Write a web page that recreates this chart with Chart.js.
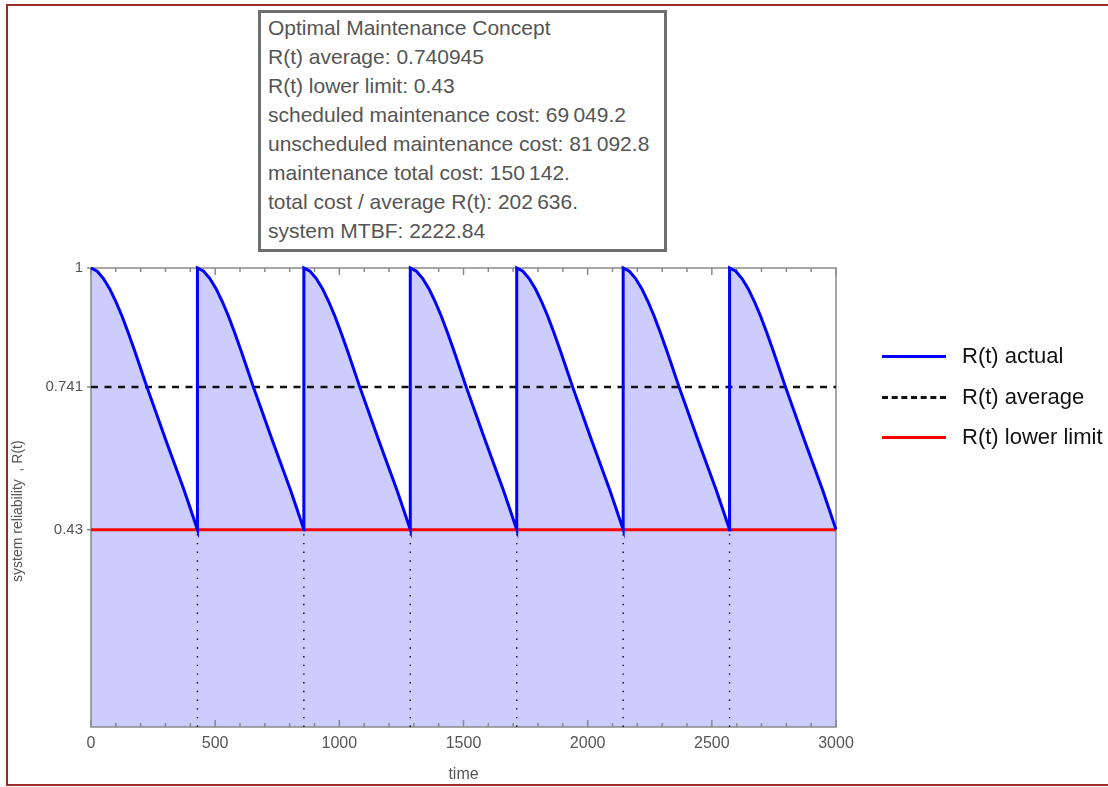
<!DOCTYPE html>
<html>
<head>
<meta charset="utf-8">
<script src="https://cdn.jsdelivr.net/npm/chart.js@4.4.1/dist/chart.umd.min.js"></script>
<style>
  body { margin: 0; background: #fff; font-family: "Liberation Sans", Arial, sans-serif; }
  #wrap { position: relative; width: 1108px; height: 787px; overflow: hidden; }
  #outer { position: absolute; left: 6px; top: 4px; width: 1110px; height: 782px; border: 2px solid #9c2a2a; box-sizing: border-box; }
  canvas { position: absolute; left: 0; top: 0; }
  #info { position: absolute; left: 258px; top: 10px; width: 409px; height: 242px; box-sizing: border-box;
          border: 3px solid #6e6e6e; background: #fff; padding: 0 0 0 7px; color: #555; font-size: 21px; line-height: 29px; }
  #legend { position: absolute; left: 882px; top: 342px; font-size: 22px; color: #111; }
  .item { position: relative; height: 40.5px; }
  .swatch { position: absolute; left: 0; top: 13px; width: 64px; height: 0; }
  .item span { position: absolute; left: 80px; top: 1px; white-space: nowrap; }
</style>
</head>
<body>
<div id="wrap">
  <div id="outer"></div>
  <canvas id="chart" width="1108" height="787"></canvas>
  <div id="info">
    <div>Optimal Maintenance Concept</div>
    <div>R(t) average: 0.740945</div>
    <div>R(t) lower limit: 0.43</div>
    <div>scheduled maintenance cost: 69&#8201;049.2</div>
    <div>unscheduled maintenance cost: 81&#8201;092.8</div>
    <div>maintenance total cost: 150&#8201;142.</div>
    <div>total cost / average R(t): 202&#8201;636.</div>
    <div>system MTBF: 2222.84</div>
  </div>
  <div id="legend">
    <div class="item"><div class="swatch" style="border-top: 3px solid #0000ff"></div><span>R(t) actual</span></div>
    <div class="item"><div class="swatch" style="border-top: 3px dashed #111"></div><span>R(t) average</span></div>
    <div class="item"><div class="swatch" style="border-top: 3px solid #ff0000"></div><span>R(t) lower limit</span></div>
  </div>
</div>
<script>
// one maintenance cycle (time since last maintenance, R(t))
const cycleT = [0, 25, 50, 75, 100, 125, 150, 175, 200, 225, 250, 275, 300, 325, 350, 375, 400, 428.6];
const cycleR = [1.0, 0.993, 0.977, 0.955, 0.927, 0.895, 0.859, 0.821, 0.781, 0.741, 0.703, 0.665,
                0.627, 0.590, 0.553, 0.516, 0.476, 0.43];
// start of each cycle (0 and the scheduled maintenance times)
const cycleStarts = [0, 428.6, 857.1, 1285.7, 1714.3, 2142.9, 2571.4];
const maintenanceTimes = [428.6, 857.1, 1285.7, 1714.3, 2142.9, 2571.4];
const rAverage = 0.741;
const rLowerLimit = 0.43;
const yTickValues = [0.43, 0.741, 1];
const xTickStep = 500;

const actual = [];
for (const s of cycleStarts) {
  for (let i = 0; i < cycleT.length; i++) {
    actual.push({ x: s + cycleT[i], y: cycleR[i] });
  }
}

const datasets = [];
for (const t of maintenanceTimes) {
  datasets.push({
    data: [{ x: t, y: 0 }, { x: t, y: rLowerLimit }],
    borderColor: "#000", borderWidth: 1.4, borderDash: [1.4, 7.3],
    pointRadius: 0, fill: false, order: 4
  });
}
datasets.push({
  data: [{ x: 0, y: rLowerLimit }, { x: 3000, y: rLowerLimit }],
  borderColor: "#ff0000", borderWidth: 3, pointRadius: 0, fill: false, order: 3
});
datasets.push({
  data: [{ x: 0, y: rAverage }, { x: 3000, y: rAverage }],
  borderColor: "#111", borderWidth: 2.5, borderDash: [7, 6.5], pointRadius: 0, fill: false, order: 2
});
datasets.push({
  data: actual,
  borderColor: "#0000ff", borderWidth: 3, pointRadius: 0, tension: 0,
  fill: "start", backgroundColor: "rgb(204,204,255)", order: 1, clip: 4
});

const framePlugin = {
  id: "frame",
  beforeDatasetsDraw(chart) {
    const { ctx, chartArea: a, scales } = chart;
    ctx.save();
    ctx.strokeStyle = "#8a8a8a";
    ctx.lineWidth = 1.5;
    ctx.strokeRect(a.left, a.top, a.right - a.left, a.bottom - a.top);
    ctx.beginPath();
    for (let t = 0; t <= 3000; t += 100) {
      const px = scales.x.getPixelForValue(t);
      const len = t % 500 === 0 ? 7 : 4;
      ctx.moveTo(px, a.bottom); ctx.lineTo(px, a.bottom - len);
      ctx.moveTo(px, a.top); ctx.lineTo(px, a.top + len);
    }
    for (const v of yTickValues) {
      const py = scales.y.getPixelForValue(v);
      ctx.moveTo(a.left - 4, py); ctx.lineTo(a.left, py);
    }
    ctx.stroke();
    ctx.restore();
  }
};

new Chart("chart", {
  type: "line",
  data: { datasets: datasets },
  plugins: [framePlugin],
  options: {
    responsive: false,
    animation: false,
    layout: { padding: { left: 0, top: 268, right: 272, bottom: 0 } },
    plugins: {
      legend: { display: false },
      tooltip: { enabled: false },
      filler: { drawTime: "beforeDatasetsDraw" }
    },
    scales: {
      x: {
        type: "linear", min: 0, max: 3000,
        grid: { display: false, drawTicks: false },
        border: { display: false },
        ticks: { stepSize: xTickStep, padding: 7, color: "#555", font: { family: "Liberation Sans", size: 16 },
                 callback: (v) => String(v), maxRotation: 0 },
        title: { display: true, text: "time", color: "#555", font: { family: "Liberation Sans", size: 16 },
                 padding: { top: 0, bottom: 3 } },
        afterFit: (s) => { s.height = 60; }
      },
      y: {
        type: "linear", min: 0, max: 1,
        grid: { display: false, drawTicks: false },
        border: { display: false },
        afterBuildTicks: (s) => { s.ticks = yTickValues.map((v) => ({ value: v })); },
        ticks: { padding: 8, color: "#555", font: { family: "Liberation Sans", size: 15 },
                 callback: (v) => String(v) },
        title: { display: true, text: "system reliability  , R(t)       ", color: "#555",
                 font: { family: "Liberation Sans", size: 14 }, padding: { top: 10, bottom: 0 } },
        afterFit: (s) => { s.width = 91; }
      }
    }
  }
});
</script>
</body>
</html>
